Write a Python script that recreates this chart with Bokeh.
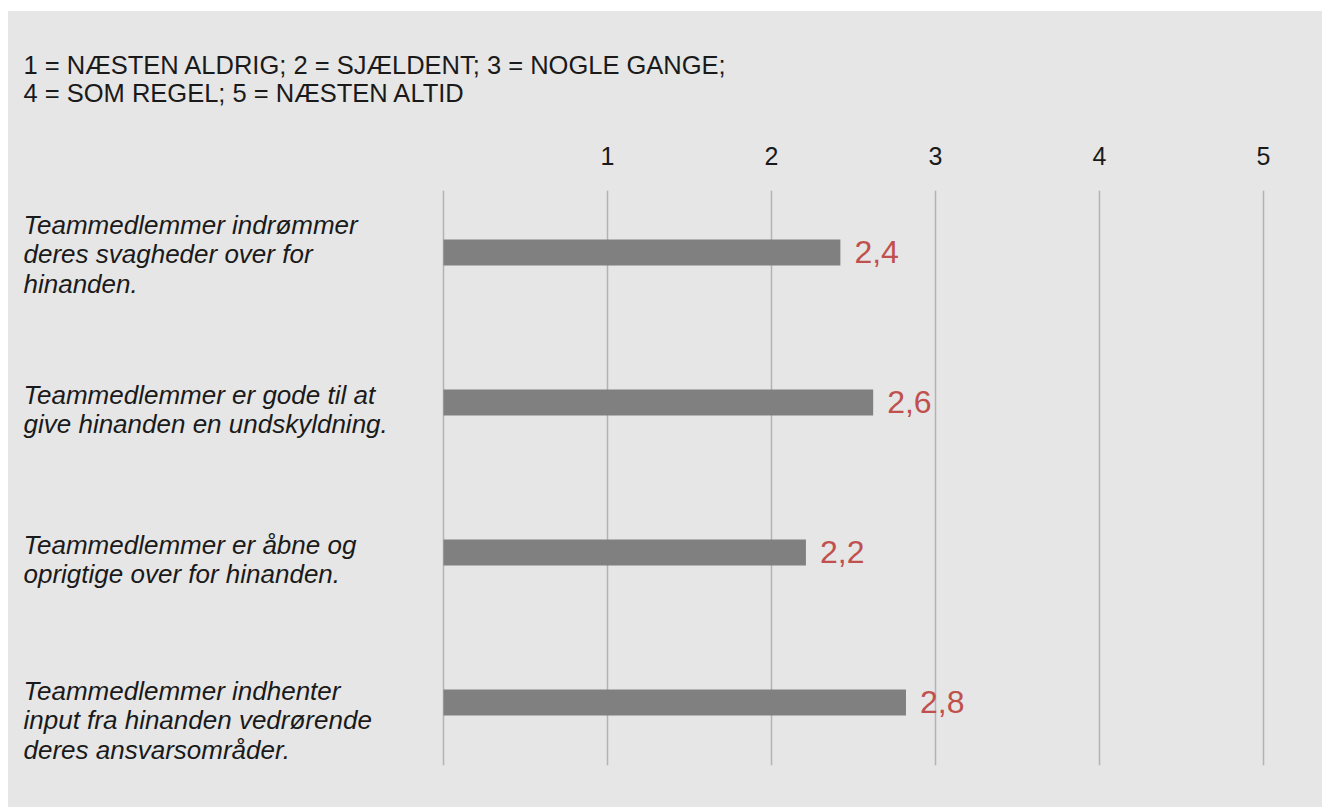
from bokeh.plotting import figure
from bokeh.models import Range1d, FixedTicker, Spacer
from bokeh.layouts import column, row
from bokeh.core.properties import value
from bokeh.embed import file_html
from bokeh.resources import INLINE

# ---- data ----
legend_lines = [
    "1 = NÆSTEN ALDRIG; 2 = SJÆLDENT; 3 = NOGLE GANGE;",
    "4 = SOM REGEL; 5 = NÆSTEN ALTID",
]
categories = [
    "Teammedlemmer indrømmer\nderes svagheder over for\nhinanden.",
    "Teammedlemmer er gode til at\ngive hinanden en undskyldning.",
    "Teammedlemmer er åbne og\noprigtige over for hinanden.",
    "Teammedlemmer indhenter\ninput fra hinanden vedrørende\nderes ansvarsområder.",
]
scores = [2.42, 2.62, 2.21, 2.82]
tick_values = [1, 2, 3, 4, 5]
grid_values = [0, 1, 2, 3, 4, 5]

# ---- layout (pixels) ----
W, H = 1314, 796
ZERO_PX = 435.0          # x pixel of value 0 inside the figure
PX_PER_UNIT = 164.0
TOP, FH = 179, 575       # frame top / height
ROW_PX = 150.0
Y_TOP = -62.0 / ROW_PX
Y_BOTTOM = Y_TOP + FH / ROW_PX

def xdata(fig_px):
    return (fig_px - ZERO_PX) / PX_PER_UNIT

FONT = "Liberation Sans"
TEXT_COLOR = "#1a1a1a"
BG = "#e6e6e6"

p = figure(width=W, height=H,
           x_range=Range1d(xdata(0), xdata(W)),
           y_range=Range1d(Y_BOTTOM, Y_TOP),
           output_backend="svg", toolbar_location=None,
           x_axis_location="above", y_axis_location=None,
           min_border_left=0, min_border_right=0,
           min_border_top=TOP, min_border_bottom=H - TOP - FH)
p.background_fill_color = None
p.border_fill_color = None
p.styles = {"background-color": BG}
p.outline_line_color = None

p.title.text = "\n".join(legend_lines)
p.title.align = "left"
p.title.offset = 15
p.title.text_font = FONT
p.title.text_font_size = "25.5px"
p.title.text_font_style = "normal"
p.title.text_color = TEXT_COLOR
p.title.standoff = 73

ax = p.xaxis[0]
ax.ticker = FixedTicker(ticks=tick_values)
ax.axis_line_color = None
ax.major_tick_line_color = None
ax.minor_tick_line_color = None
ax.major_label_text_font = FONT
ax.major_label_text_font_size = "25px"
ax.major_label_text_color = TEXT_COLOR
ax.major_label_standoff = 20

p.xgrid.ticker = FixedTicker(ticks=grid_values)
p.xgrid.grid_line_color = "#b3b3b3"
p.xgrid.grid_line_width = 1.5
p.ygrid.grid_line_color = None

ys = list(range(len(categories)))
p.hbar(y=ys, left=0, right=scores, height=26 / ROW_PX,
       fill_color="#808080", line_color=None)

val_labels = [f"{v:.1f}".replace(".", ",") for v in scores]
p.text(x=scores, y=ys, text=val_labels, x_offset=14, y_offset=-1,
       text_font=value(FONT), text_font_size="32px", text_color="#c0504d",
       text_baseline="middle", text_align="left")

# category labels (left aligned, italic), one text item per line
first_line_offsets = [-28, -8, -8, -12]  # px below bar centre of first line
LINE_PX = 29.5
cx, cy, ct = [], [], []
for i, cat in enumerate(categories):
    for k, line in enumerate(cat.split("\n")):
        off = first_line_offsets[i] + k * LINE_PX
        cx.append(xdata(15))
        cy.append(i + off / ROW_PX)
        ct.append(line)
p.text(x=cx, y=cy, text=ct, text_font=value(FONT), text_font_style="italic",
       text_font_size="26px", text_color=TEXT_COLOR,
       text_baseline="alphabetic", text_align="left")

layout = column(Spacer(height=11), row(Spacer(width=8), p))
open("out.html", "w").write(file_html(layout, INLINE))
